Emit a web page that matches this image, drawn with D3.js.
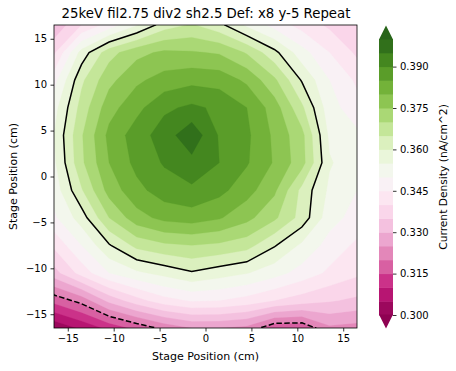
<!DOCTYPE html>
<html>
<head>
<meta charset="utf-8">
<script src="https://cdn.jsdelivr.net/npm/d3@7"></script>
<style>
  body { margin: 0; background: #fff; }
  text { font-family: "DejaVu Sans", sans-serif; }
</style>
</head>
<body>
<div id="chart"></div>
<script>
// grid positions (cm) and measured current density, rows top (y=16.5) to bottom
const xs = [-16.5, -13.5, -10.5, -7.5, -4.5, -1.5, 1.5, 4.5, 7.5, 10.5, 13.5, 16.5];
const ys = [16.5, 13.5, 10.5, 7.5, 4.5, 1.5, -1.5, -4.5, -7.5, -10.5, -13.5, -16.5];
const row0 = [0.331, 0.340, 0.347, 0.3545, 0.3625, 0.3655, 0.3615, 0.354, 0.348, 0.343, 0.339, 0.335];
const row1 = [0.339, 0.357, 0.368, 0.3735, 0.376, 0.3755, 0.3745, 0.3695, 0.3615, 0.352, 0.345, 0.339];
const row2 = [0.348, 0.364, 0.3735, 0.379, 0.382, 0.3835, 0.383, 0.379, 0.371, 0.3595, 0.350, 0.344];
const row3 = [0.353, 0.367, 0.378, 0.3835, 0.389, 0.391, 0.389, 0.385, 0.3775, 0.366, 0.352, 0.347];
const row4 = [0.355, 0.3695, 0.3814, 0.3875, 0.3925, 0.3985, 0.3895, 0.386, 0.379, 0.3715, 0.354, 0.351];
const row5 = [0.354, 0.369, 0.380, 0.3865, 0.3905, 0.3935, 0.390, 0.3855, 0.3795, 0.372, 0.3555, 0.352];
const row6 = [0.352, 0.3645, 0.377, 0.3835, 0.3875, 0.389, 0.3865, 0.382, 0.376, 0.3635, 0.354, 0.350];
const row7 = [0.349, 0.3575, 0.370, 0.378, 0.3815, 0.3825, 0.3805, 0.3765, 0.371, 0.363, 0.352, 0.348];
const row8 = [0.341, 0.350, 0.3595, 0.3665, 0.369, 0.370, 0.369, 0.367, 0.3605, 0.354, 0.348, 0.344];
const row9 = [0.333, 0.342, 0.350, 0.354, 0.3567, 0.3595, 0.3573, 0.3553, 0.352, 0.348, 0.344, 0.341];
const row10 = [0.3168, 0.3219, 0.3315, 0.338, 0.343, 0.3455, 0.345, 0.343, 0.340, 0.3375, 0.3355, 0.334];
const row11 = [0.301, 0.306, 0.3115, 0.3165, 0.3215, 0.325, 0.325, 0.3235, 0.316, 0.316, 0.324, 0.323];
const rows = [row0, row1, row2, row3, row4, row5, row6, row7, row8, row9, row10, row11];

const levels = [0.300, 0.305, 0.310, 0.315, 0.320, 0.325, 0.330, 0.335, 0.340, 0.345, 0.350,
                0.355, 0.360, 0.365, 0.370, 0.375, 0.380, 0.385, 0.390, 0.395, 0.400];
const lineLevels = [0.32, 0.36];
const lineDashes = ['5.5,2.4', null];
const cbTicks = [0.300, 0.315, 0.330, 0.345, 0.360, 0.375, 0.390];
const xTicks = [-15, -10, -5, 0, 5, 10, 15];
const yTicks = [-15, -10, -5, 0, 5, 10, 15];

// PiYG
const piyg = ['#8e0152', '#c51b7d', '#de77ae', '#f1b6da', '#fde0ef', '#f7f7f7',
              '#e6f5d0', '#b8e186', '#7fbc41', '#4d9221', '#276419'];

const width = 456, height = 371;
const plot = { left: 54, top: 25, right: 357, bottom: 328 };
const cb = { left: 379, right: 393, top: 39, bottom: 315, tip: 13.5 };

const svg = d3.select('#chart').append('svg')
  .attr('width', width)
  .attr('height', height);

const x = d3.scaleLinear().domain([-16.5, 16.5]).range([plot.left, plot.right]);
const y = d3.scaleLinear().domain([-16.5, 16.5]).range([plot.bottom, plot.top]);

const cmap = d3.piecewise(d3.interpolateRgb, piyg);
const norm = d3.scaleLinear().domain([levels[0], levels[levels.length - 1]]).range([0, 1]);
const bandColor = i => cmap(norm((levels[i] + levels[i + 1]) / 2));
const underColor = cmap(0), overColor = cmap(1);

// grid index -> screen
const n = xs.length, m = ys.length;
const stepX = xs[1] - xs[0], stepY = ys[0] - ys[1];
const proj = d3.geoTransform({
  point(px, py) {
    this.stream.point(x(xs[0] + (px - 0.5) * stepX), y(ys[0] - (py - 0.5) * stepY));
  }
});
const path = d3.geoPath(proj);
const values = rows.flat();

svg.append('clipPath').attr('id', 'plotClip')
  .append('rect')
  .attr('x', plot.left).attr('y', plot.top)
  .attr('width', plot.right - plot.left).attr('height', plot.bottom - plot.top);

// filled contours
const fill = svg.append('g').attr('clip-path', 'url(#plotClip)');
fill.append('rect')
  .attr('x', plot.left).attr('y', plot.top)
  .attr('width', plot.right - plot.left).attr('height', plot.bottom - plot.top)
  .attr('fill', underColor);

const bands = d3.contours().size([n, m]).thresholds(levels)(values);
fill.selectAll('path.band')
  .data(bands)
  .join('path')
  .attr('class', 'band')
  .attr('d', path)
  .attr('fill', (d, i) => i < levels.length - 1 ? bandColor(i) : overColor)
  .attr('stroke', (d, i) => i < levels.length - 1 ? bandColor(i) : overColor)
  .attr('stroke-width', 0.3);

// contour lines
const lines = d3.contours().size([n, m]).thresholds(lineLevels)(values);
fill.selectAll('path.line')
  .data(lines)
  .join('path')
  .attr('class', 'line')
  .attr('d', path)
  .attr('fill', 'none')
  .attr('stroke', '#000')
  .attr('stroke-width', 1.5)
  .attr('stroke-dasharray', (d, i) => lineDashes[i]);

// axes
const xAxis = svg.append('g')
  .attr('transform', `translate(0,${plot.bottom})`)
  .call(d3.axisBottom(x).tickValues(xTicks).tickSize(3.5).tickPadding(3.5));
const yAxis = svg.append('g')
  .attr('transform', `translate(${plot.left},0)`)
  .call(d3.axisLeft(y).tickValues(yTicks).tickSize(3.5).tickPadding(3.5));
[xAxis, yAxis].forEach(g => {
  g.select('.domain').remove();
  g.selectAll('.tick line').attr('stroke', '#000').attr('stroke-width', 0.8);
  g.selectAll('.tick text')
    .attr('font-size', 10)
    .attr('fill', '#000')
    .attr('font-family', 'DejaVu Sans');
});

svg.append('rect')
  .attr('x', plot.left).attr('y', plot.top)
  .attr('width', plot.right - plot.left).attr('height', plot.bottom - plot.top)
  .attr('fill', 'none')
  .attr('stroke', '#000')
  .attr('stroke-width', 0.8);

// titles
svg.append('text')
  .attr('x', 206)
  .attr('y', 18)
  .attr('text-anchor', 'middle')
  .attr('font-size', 13.3)
  .text('25keV fil2.75 div2 sh2.5 Def: x8 y-5 Repeat');
svg.append('text')
  .attr('x', (plot.left + plot.right) / 2)
  .attr('y', 360)
  .attr('text-anchor', 'middle')
  .attr('font-size', 11)
  .text('Stage Position (cm)');
svg.append('text')
  .attr('transform', `translate(16.5,${(plot.top + plot.bottom) / 2}) rotate(-90)`)
  .attr('text-anchor', 'middle')
  .attr('font-size', 11)
  .text('Stage Position (cm)');

// colorbar
const cy = d3.scaleLinear().domain([levels[0], levels[levels.length - 1]]).range([cb.bottom, cb.top]);
const cbar = svg.append('g');
cbar.selectAll('rect')
  .data(levels.slice(0, -1))
  .join('rect')
  .attr('x', cb.left)
  .attr('width', cb.right - cb.left)
  .attr('y', (d, i) => cy(levels[i + 1]))
  .attr('height', (d, i) => cy(levels[i]) - cy(levels[i + 1]) + 0.5)
  .attr('fill', (d, i) => bandColor(i));
const mid = (cb.left + cb.right) / 2;
cbar.append('path')
  .attr('d', `M${cb.left},${cb.top + 0.5}L${mid},${cb.top - cb.tip}L${cb.right},${cb.top + 0.5}Z`)
  .attr('fill', overColor);
cbar.append('path')
  .attr('d', `M${cb.left},${cb.bottom - 0.5}L${mid},${cb.bottom + cb.tip}L${cb.right},${cb.bottom - 0.5}Z`)
  .attr('fill', underColor);

const cAxis = svg.append('g')
  .attr('transform', `translate(${cb.right},0)`)
  .call(d3.axisRight(cy).tickValues(cbTicks).tickFormat(d3.format('.3f')).tickSize(3.5).tickPadding(3.5));
cAxis.select('.domain').remove();
cAxis.selectAll('.tick line').attr('stroke', '#000').attr('stroke-width', 0.8);
cAxis.selectAll('.tick text')
  .attr('font-size', 10)
  .attr('fill', '#000')
  .attr('font-family', 'DejaVu Sans');

svg.append('text')
  .attr('transform', `translate(446.5,${(cb.top + cb.bottom) / 2}) rotate(-90)`)
  .attr('text-anchor', 'middle')
  .attr('font-size', 10.7)
  .text('Current Density (nA/cm^2)');
</script>
</body>
</html>
